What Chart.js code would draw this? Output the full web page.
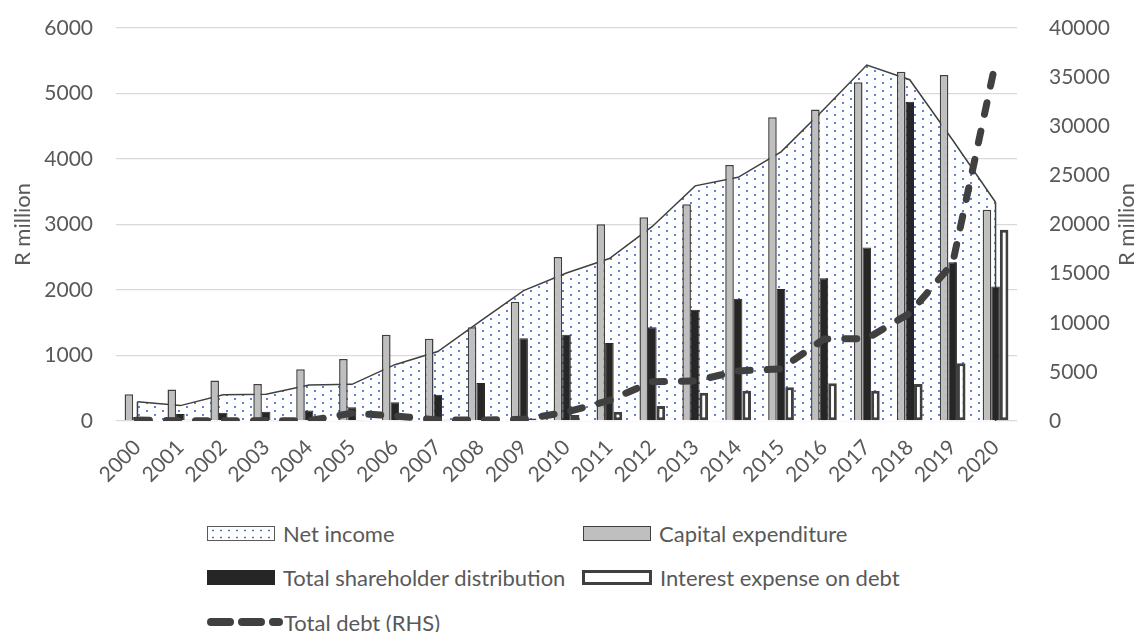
<!DOCTYPE html>
<html>
<head>
<meta charset="utf-8">
<script src="https://cdn.jsdelivr.net/npm/chart.js@4.4.1/dist/chart.umd.min.js"></script>
<style>
  body { margin: 0; background: #fff; font-family: Lato, sans-serif; }
  #wrap { position: relative; width: 1139px; height: 632px; overflow: hidden; }
  #chartBox { position: absolute; left: 0; top: 0; width: 1139px; height: 500px; }
  .item { position: absolute; display: flex; align-items: center; height: 26px; font-size: 22px; color: #595959; white-space: nowrap; }
  .sw { display: inline-block; width: 68px; height: 15px; margin-right: 8px; box-sizing: border-box; }
  .sw.ni { border: 1px solid #595959; background-color: #fff;
           background-image: radial-gradient(circle, #4472C4 0.8px, transparent 1.2px);
           background-size: 8px 7px; background-position: 1px 0; }
  .sw.cap { background: #BFBFBF; border: 1.5px solid #404040; }
  .sw.tsd { background: #262626; border: 1px solid #262626; }
  .sw.int { background: #fff; border: 3px solid #404040; width: 70px; }
  svg.dash { margin-right: 1px; }
</style>
</head>
<body>
<div id="wrap">
  <div id="chartBox"><canvas id="chart" width="1139" height="500"></canvas></div>
  <div class="item" style="left:207px; top:520px;"><span class="sw ni"></span>Net income</div>
  <div class="item" style="left:583px; top:520px;"><span class="sw cap"></span>Capital expenditure</div>
  <div class="item" style="left:207px; top:564px;"><span class="sw tsd"></span>Total shareholder distribution</div>
  <div class="item" style="left:582px; top:564px;"><span class="sw int"></span>Interest expense on debt</div>
  <div class="item" style="left:207px; top:609px;"><svg class="dash" width="76" height="12"><line x1="4" y1="6" x2="72" y2="6" stroke="#404040" stroke-width="8" stroke-linecap="round" stroke-dasharray="19 12"/></svg>Total debt (RHS)</div>
</div>
<script>
const years = ['2000', '2001', '2002', '2003', '2004', '2005', '2006', '2007', '2008', '2009', '2010',
               '2011', '2012', '2013', '2014', '2015', '2016', '2017', '2018', '2019', '2020'];

// R million, left axis
const netIncome = [295, 235, 400, 410, 550, 560, 860, 1060, 1530, 1990, 2260, 2480, 2970, 3590, 3720, 4110, 4760, 5435, 5210, 4290, 3340];
const capex     = [410, 480, 620, 565, 790, 945, 1315, 1255, 1430, 1820, 2505, 3005, 3110, 3310, 3910, 4636, 4755, 5170, 5333, 5282, 3225];
const shareholderDist = [60, 105, 125, 140, 160, 210, 285, 400, 580, 1265, 1315, 1190, 1430, 1700, 1865, 2015, 2180, 2650, 4875, 2425, 2055];
const interestExp = [25, 20, 20, 15, 15, 15, 15, 20, 25, 40, 90, 140, 229, 432, 463, 514, 575, 463, 565, 880, 2920];

// R million, right axis
const totalDebt = [100, 30, 30, 40, 30, 800, 520, 100, 100, 170, 900, 2100, 4000, 4070, 5100, 5300, 8350, 8380, 10970, 16050, 36500];

const leftTicks = { min: 0, max: 6000, step: 1000 };
const rightTicks = { min: 0, max: 40000, step: 5000 };

Chart.defaults.font.family = 'Lato';
Chart.defaults.color = '#595959';

const ctx = document.getElementById('chart').getContext('2d');

function dotPattern(c) {
  const tile = document.createElement('canvas');
  tile.width = 16;
  tile.height = 8;
  const g = tile.getContext('2d');
  g.fillStyle = '#fff';
  g.fillRect(0, 0, 16, 8);
  g.fillStyle = '#5a86d6';
  g.fillRect(2, 2, 2, 2);
  g.fillRect(10, 6, 2, 2);
  return c.createPattern(tile, 'repeat');
}

// closes the net income area with its vertical edges, like the Excel area border
const areaEdges = {
  id: 'areaEdges',
  afterDatasetDraw(chart, args) {
    if (args.index !== 0) return;
    const pts = args.meta.data;
    const y0 = chart.scales.y.getPixelForValue(0);
    const c = chart.ctx;
    const first = pts[0], last = pts[pts.length - 1];
    c.save();
    c.strokeStyle = '#404040';
    c.lineWidth = 1.5;
    c.beginPath();
    c.moveTo(first.x, first.y); c.lineTo(first.x, y0);
    c.moveTo(last.x, last.y); c.lineTo(last.x, y0);
    c.stroke();
    c.restore();
  }
};

// right axis title reads bottom-to-top, as on the left
const rightTitle = {
  id: 'rightTitle',
  afterDraw(chart) {
    const s = chart.scales.y2;
    const c = chart.ctx;
    c.save();
    c.translate(1134, (s.top + s.bottom) / 2);
    c.rotate(-Math.PI / 2);
    c.font = '22px Lato';
    c.fillStyle = '#595959';
    c.textAlign = 'center';
    c.textBaseline = 'alphabetic';
    c.fillText('R million', 0, 0);
    c.restore();
  }
};

const plainNumber = v => String(v);

// tick padding should not push the plot area down
function fixVertical(width) {
  return s => {
    s.width = width;
    s.paddingTop = 0;
    s.paddingBottom = 0;
  };
}

new Chart(ctx, {
  data: {
    labels: years,
    datasets: [
      {
        type: 'line',
        label: 'Net income',
        data: netIncome,
        yAxisID: 'y',
        fill: 'origin',
        backgroundColor: dotPattern(ctx),
        borderColor: '#404040',
        borderWidth: 1.5,
        pointRadius: 0,
        tension: 0,
        order: 5
      },
      {
        type: 'bar',
        label: 'Capital expenditure',
        data: capex,
        yAxisID: 'y',
        backgroundColor: '#BFBFBF',
        borderColor: '#404040',
        borderWidth: 1.5,
        categoryPercentage: 0.6,
        barPercentage: 1.0,
        order: 3
      },
      {
        type: 'bar',
        label: 'Total shareholder distribution',
        data: shareholderDist,
        yAxisID: 'y',
        backgroundColor: '#262626',
        borderColor: '#262626',
        borderWidth: 1,
        categoryPercentage: 0.6,
        barPercentage: 1.0,
        order: 3
      },
      {
        type: 'bar',
        label: 'Interest expense on debt',
        data: interestExp,
        yAxisID: 'y',
        backgroundColor: '#ffffff',
        borderColor: '#404040',
        borderWidth: 3,
        borderSkipped: false,
        categoryPercentage: 0.6,
        barPercentage: 1.0,
        order: 3
      },
      {
        type: 'line',
        label: 'Total debt (RHS)',
        data: totalDebt,
        yAxisID: 'y2',
        fill: false,
        borderColor: '#404040',
        borderWidth: 7,
        borderDash: [12, 17],
        borderCapStyle: 'round',
        pointRadius: 0,
        tension: 0,
        order: 1
      }
    ]
  },
  options: {
    responsive: false,
    animation: false,
    events: [],
    layout: { padding: { top: 28, left: 0, right: 0, bottom: 0 } },
    plugins: {
      legend: { display: false },
      tooltip: { enabled: false }
    },
    scales: {
      x: {
        grid: { display: false },
        border: { display: false },
        ticks: { font: { size: 21 }, color: '#595959', minRotation: 45, maxRotation: 45, autoSkip: false, padding: 6 },
        afterFit(s) { s.height = 79; }
      },
      y: {
        position: 'left',
        min: leftTicks.min,
        max: leftTicks.max,
        ticks: { stepSize: leftTicks.step, font: { size: 21 }, color: '#595959', padding: 23, callback: plainNumber },
        grid: { color: '#D9D9D9', lineWidth: 1.3, drawTicks: false },
        border: { display: false },
        title: { display: true, text: 'R million', color: '#595959', font: { size: 22 }, padding: { top: 10, bottom: 0 } },
        afterFit: fixVertical(116)
      },
      y2: {
        position: 'right',
        min: rightTicks.min,
        max: rightTicks.max,
        ticks: { stepSize: rightTicks.step, font: { size: 21 }, color: '#595959', padding: 24, callback: plainNumber },
        grid: { display: false },
        border: { display: false },
        afterFit: fixVertical(122)
      }
    }
  },
  plugins: [areaEdges, rightTitle]
});
</script>
</body>
</html>
